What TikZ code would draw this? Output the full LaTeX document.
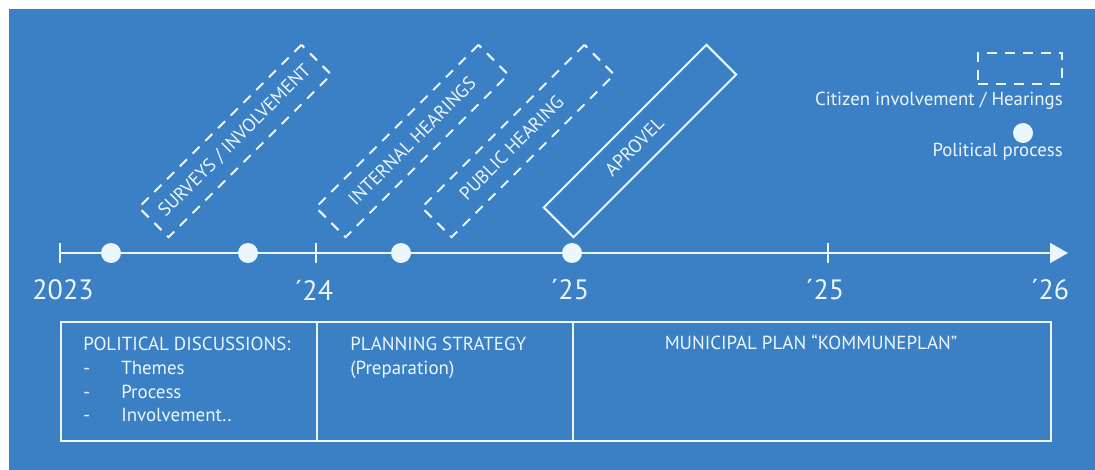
\documentclass[tikz,border=0pt]{standalone}
\usepackage{fontspec}
\setmainfont{PT Sans}
\usetikzlibrary{arrows.meta}
\definecolor{bg}{RGB}{59,128,197}
\definecolor{fg}{RGB}{236,246,255}
\begin{document}
\begin{tikzpicture}[x=0.75pt,y=-0.75pt,
  every node/.style={text=fg, inner sep=0pt},
  hearbox/.style={draw=fg, line width=1.5pt, dash pattern=on 7.5pt off 6pt, rotate=45,
    minimum width=172.5pt, minimum height=31.5pt, font=\fontsize{14}{16}\selectfont},
  apprbox/.style={draw=fg, line width=1.5pt, rotate=45,
    minimum width=172.5pt, minimum height=31.5pt, font=\fontsize{14}{16}\selectfont},
  pdot/.style={circle, fill=fg, minimum size=15pt},
  yearlbl/.style={font=\fontsize{21}{25}\selectfont},
  phase/.style={draw=fg, line width=1.5pt, minimum height=89.25pt, anchor=north west},
  phasetxt/.style={font=\fontsize{14.2}{17.8}\selectfont, align=left},
  legtxt/.style={font=\fontsize{14.1}{16}\selectfont},
  tline/.style={draw=fg, line width=1.5pt}]
\useasboundingbox (0,0) rectangle (1095,470);
\fill[white] (0,0) rectangle (1095,470);
\fill[bg] (9,9) rectangle (1095,470);

% rotated activity boxes
\node[hearbox] (surv) at (235,141) {SURVEYS / INVOLVEMENT};
\node[hearbox] (inth) at (412,141) {INTERNAL HEARINGS};
\node[hearbox] (pubh) at (518,141) {\hspace*{-14pt}PUBLIC HEARING};
\node[apprbox] (appr) at (640,141) {\hspace*{-12pt}APROVEL};

% timeline
\coordinate (tstart) at (60,253);
\coordinate (tend) at (1068,253);
\coordinate (tk24) at (316,253);
\coordinate (tk25b) at (828,253);
\draw[tline, -{Triangle[length=13.5pt,width=15pt]}] (tstart) -- (tend);
\draw[tline] ([yshift=7.5pt]tstart) -- ([yshift=-7.5pt]tstart);
\draw[tline] ([yshift=7.5pt]tk24) -- ([yshift=-7.5pt]tk24);
\draw[tline] ([yshift=7.5pt]tk25b) -- ([yshift=-7.5pt]tk25b);
\node[pdot] (d1) at (111,253) {};
\node[pdot] (d2) at (248,253) {};
\node[pdot] (d3) at (401,253) {};
\node[pdot] (d4) at (572,253) {};

\node[yearlbl] (y23) at (63,290) {2023};
\node[yearlbl] (y24) at (314,290) {´24};
\node[yearlbl] (y25a) at (570,290) {´25};
\node[yearlbl] (y25b) at (825,290) {´25};
\node[yearlbl] (y26) at (1050,290) {´26};

% phases
\node[phase, minimum width=192pt] (p1) at (60,321) {};
\node[phase, minimum width=192pt] (p2) at (316,321) {};
\node[phase, minimum width=358.5pt] (p3) at (572,321) {};
\node[phasetxt, anchor=north west] (t1) at (83,337)
  {POLITICAL DISCUSSIONS:\\
   \makebox[28.5pt][l]{-}Themes\\
   \makebox[28.5pt][l]{-}Process\\
   \makebox[28.5pt][l]{-}Involvement..};
\node[phasetxt, anchor=north west] (t2) at (350,337)
  {PLANNING STRATEGY\\(Preparation)};
\node[phasetxt, anchor=north] (t3) at (811,335)
  {MUNICIPAL PLAN “KOMMUNEPLAN”};

% legend
\node[draw=fg, line width=1.5pt, dash pattern=on 7.5pt off 6pt,
  minimum width=63pt, minimum height=23.25pt] (leg) at (1020,68.5) {};
\node[legtxt, anchor=east] (legt1) at (1063,101) {Citizen involvement / Hearings};
\node[pdot] (legd) at (1023,133) {};
\node[legtxt, anchor=east] (legt2) at (1063,152) {Political process};
\end{tikzpicture}
\end{document}
